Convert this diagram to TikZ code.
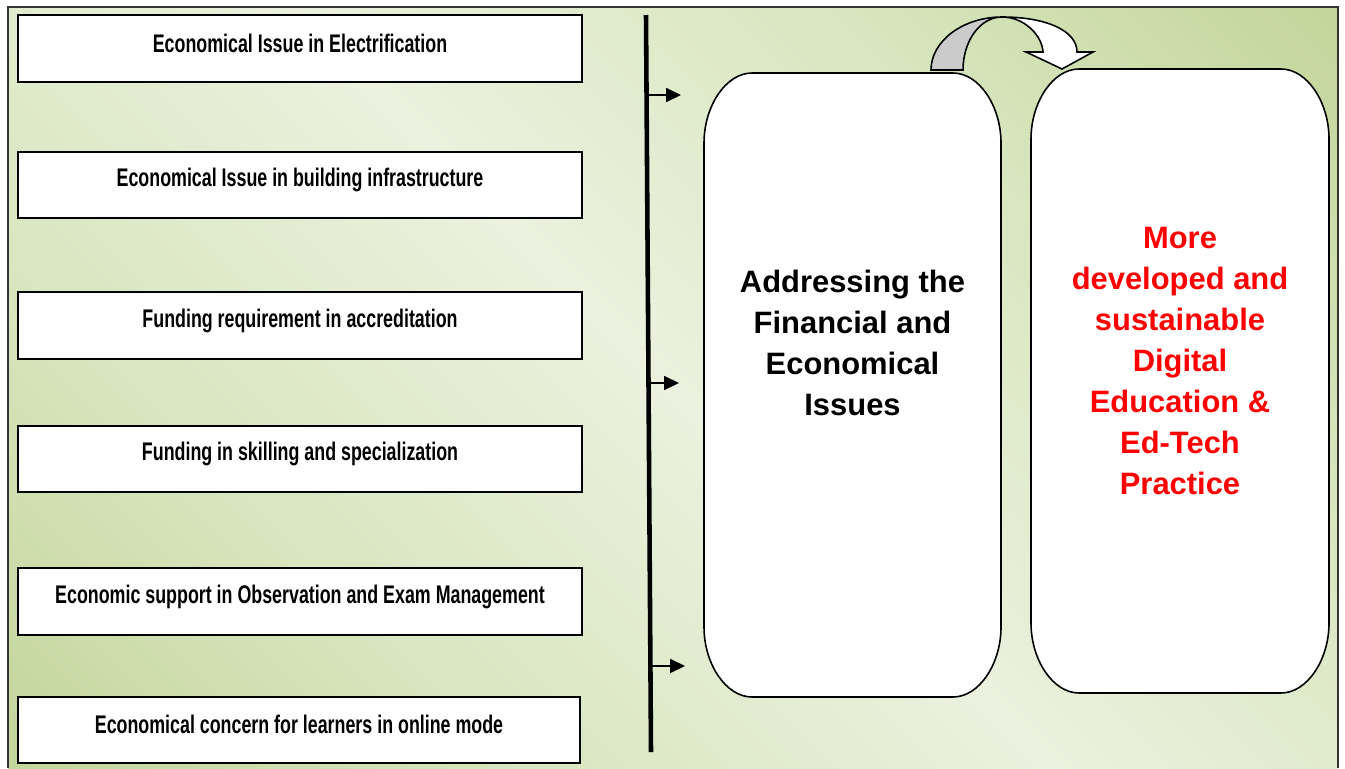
\documentclass[tikz,border=0pt]{standalone}
\usepackage{fontspec}
\setmainfont{Liberation Sans}
\newfontfamily\narrowfont[FakeStretch=0.7]{Liberation Sans}
\usetikzlibrary{arrows.meta,calc}
\definecolor{bgdark}{HTML}{C3D69B}
\definecolor{bglight}{HTML}{EBF1DE}
\definecolor{bgmid}{HTML}{D9E6C0}
\definecolor{arrowgray}{HTML}{CBCBCB}
\pgfdeclarehorizontalshading{bgshade}{100bp}{color(0bp)=(bgdark); color(15bp)=(bgdark); color(32bp)=(bgmid); color(50bp)=(bglight); color(68bp)=(bgmid); color(85bp)=(bgdark); color(100bp)=(bgdark)}
\tikzset{
  issuebox/.style={draw=black, line width=1.1pt, fill=white},
  issuetext/.style={font=\narrowfont\bfseries\fontsize{14.5}{16}\selectfont, inner sep=0pt},
  bigbox/.style={draw=black, line width=0.9pt, fill=white},
  bigtext/.style={font=\bfseries\fontsize{17.6}{23.3}\selectfont, align=center, inner sep=0pt},
  smallarrow/.style={line width=0.9pt, -{Triangle[length=8.5pt, width=8pt]}},
  spine/.style={line width=2.6pt},
  bent/.style={draw=black, line width=0.9pt}
}
\begin{document}
\begin{tikzpicture}[x=0.02cm, y=-0.02cm]
\useasboundingbox (0,0) rectangle (1345,768);
% background frame
\path[shading=bgshade, shading angle=45] (8,7) rectangle (1338,768);
\draw[line width=0.8pt, black!80] (8,768) -- (8,7) -- (1338,7) -- (1338,768);

% left issue boxes
\draw[issuebox] (18,15) rectangle (582,82);
\node[issuetext] (i1) at (300,43) {Economical Issue in Electrification};
\draw[issuebox] (18,152) rectangle (582,218);
\node[issuetext] (i2) at (300,180) {Economical Issue in building infrastructure};
\draw[issuebox] (18,292) rectangle (582,359);
\node[issuetext] (i3) at (300,321) {Funding requirement in accreditation};
\draw[issuebox] (18,426) rectangle (582,492);
\node[issuetext] (i4) at (300,454) {Funding in skilling and specialization};
\draw[issuebox] (18,568) rectangle (582,635);
\node[issuetext] (i5) at (300,597) {Economic support in Observation and Exam Management};
\draw[issuebox] (18,697) rectangle (580,763);
\node[issuetext] (i6) at (299,724) {Economical concern for learners in online mode};

% vertical spine
\coordinate (vt) at (646,15);
\coordinate (vb) at (651,752);
\draw[spine] (vt) -- (vb);

% small arrows
\coordinate (a1s) at (648,95);  \coordinate (a1e) at (681,95);
\coordinate (a2s) at (650,383); \coordinate (a2e) at (679,383);
\coordinate (a3s) at (652,666); \coordinate (a3e) at (685,666);
\draw[smallarrow] (a1s) -- (a1e);
\draw[smallarrow] (a2s) -- (a2e);
\draw[smallarrow] (a3s) -- (a3e);

% big rounded boxes (elliptical corners)
\draw[bigbox] (752,73) -- (953,73)
  .. controls (979,73) and (1001,106) .. (1001,143)
  -- (1001,627)
  .. controls (1001,664) and (979,697) .. (953,697)
  -- (752,697)
  .. controls (726,697) and (704,664) .. (704,627)
  -- (704,143)
  .. controls (704,106) and (726,73) .. (752,73) -- cycle;
\node[bigtext] (addr) at (852.5,343) {Addressing the\\Financial and\\Economical\\Issues};

\draw[bigbox] (1079,69) -- (1281,69)
  .. controls (1307,69) and (1329,102) .. (1329,139)
  -- (1329,623)
  .. controls (1329,660) and (1307,693) .. (1281,693)
  -- (1079,693)
  .. controls (1053,693) and (1031,660) .. (1031,623)
  -- (1031,139)
  .. controls (1031,102) and (1053,69) .. (1079,69) -- cycle;
\node[bigtext, text=red] (dev) at (1180,361) {More\\developed and\\sustainable\\Digital\\Education \&\\Ed-Tech\\Practice};

% curved 3D arrow between the boxes
\draw[bent, fill=white] (1002,17) .. controls (1047,17) and (1077,31) .. (1077,52)
  -- (1093,52) -- (1062,69) -- (1026,52) -- (1043,52)
  .. controls (1042,35) and (1024,17) .. (1002,17) -- cycle;
\draw[bent, fill=arrowgray] (931,70) .. controls (931,41) and (963,17) .. (1002,17)
  .. controls (980,17) and (963,41) .. (963,70) -- cycle;
\end{tikzpicture}
\end{document}
